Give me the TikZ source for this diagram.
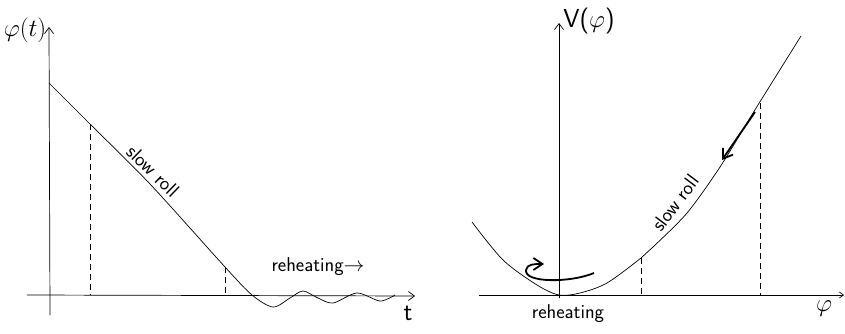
\documentclass[tikz,border=0pt]{standalone}
\usetikzlibrary{arrows.meta}
\begin{document}
\begin{tikzpicture}[x=1pt,y=-1pt,
  ax/.style={line width=0.7pt,-{Straight Barb[length=6pt,width=9pt]}},
  crv/.style={line width=0.7pt},
  dsh/.style={line width=0.7pt,dash pattern=on 6pt off 4pt},
  lbl/.style={font=\sffamily\fontsize{20}{22}\selectfont, inner sep=0pt},
  big/.style={font=\sffamily\fontsize{26}{28}\selectfont, inner sep=0pt},
  thk/.style={line width=1.8pt,-{Straight Barb[length=9pt,width=12pt]}}
  ]
\useasboundingbox (0,0) rectangle (845,334);
% ---------- left panel ----------
\coordinate (ly0) at (50,315);
\coordinate (ly1) at (49,27);
\coordinate (lx0) at (27,295);
\coordinate (lx1) at (415,296);
\draw[ax] (ly0) -- (ly1);
\draw[ax] (lx0) -- (lx1);
\draw[crv] plot[smooth,tension=0.5] coordinates {(49,83) (90,124) (150,184) (225,267) (252,295) (273,307) (290,298) (303,291) (318,298) (333,303) (357,293) (380,301) (395,295)};
\coordinate (d1t) at (90,124);
\coordinate (d1b) at (90,295);
\coordinate (d2t) at (225,267);
\coordinate (d2b) at (225,295);
\draw[dsh] (d1t) -- (d1b);
\draw[dsh] (d2t) -- (d2b);
\node[lbl,rotate=-44] (sr1) at (153,171) {slow roll};
\node[lbl] (rh1) at (318,267) {reheating$\to$};
\node[big] (tl) at (408,313) {t};
\node[big] (phit) at (25,30) {$\varphi(t)$};
% ---------- right panel ----------
\coordinate (ry0) at (559,298);
\coordinate (ry1) at (559,23);
\coordinate (rx0) at (479,295);
\coordinate (rx1) at (844,295);
\draw[ax] (ry0) -- (ry1);
\draw[line width=0.7pt,-{Straight Barb[length=4pt,width=6pt]}] (rx0) -- (rx1);
\draw[crv] plot[smooth,tension=0.5] coordinates {(472,222) (503,260) (537,285) (559,295) (580,293) (607,283) (641,258) (653,247) (687,213) (720,167) (753,113) (801,36)};
\coordinate (d3t) at (641,258);
\coordinate (d3b) at (641,295);
\coordinate (d4t) at (760,103);
\coordinate (d4b) at (760,295);
\draw[dsh] (d3t) -- (d3b);
\draw[dsh] (d4t) -- (d4b);
\coordinate (ta0) at (755,112);
\coordinate (ta1) at (722,160);
\draw[thk] (ta0) -- (ta1);
\coordinate (ca0) at (594,273);
\coordinate (ca1) at (526,270);
\coordinate (ca2) at (544,264);
\draw[thk] (ca0) .. controls (570,283) and (524,283) .. (ca1) .. controls (527,264) and (534,264) .. (ca2);
\node[lbl,rotate=53] (sr2) at (675,203) {slow roll};
\node[lbl] (rh2) at (568,314) {reheating};
\node[big] (vphi) at (589,21) {V($\varphi$)};
\node[big] (phi) at (824,309) {$\varphi$};
\end{tikzpicture}
\end{document}
